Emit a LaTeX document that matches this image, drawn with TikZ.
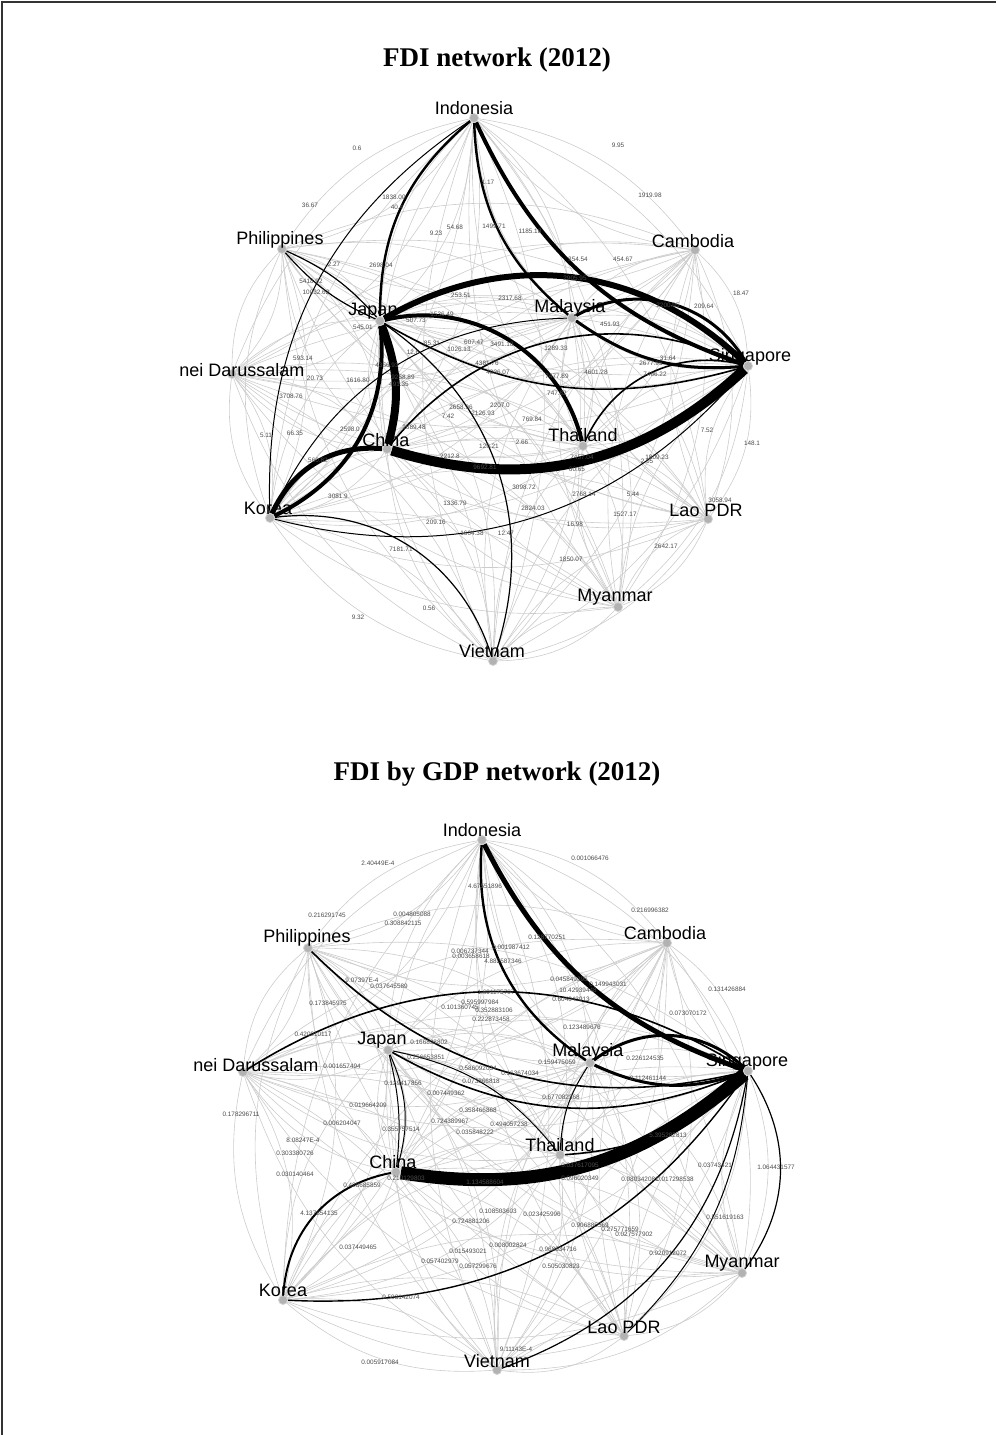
\documentclass[tikz,border=0pt]{standalone}
\usepackage{fontspec}
\setmainfont{Liberation Serif}
\setsansfont{Liberation Sans}
\usetikzlibrary{positioning}
\pgfdeclarelayer{edges}
\pgfsetlayers{edges,main}

\begin{document}
\begin{tikzpicture}[x=0.5pt, y=-0.5pt,
    dot/.style={circle, fill=gray!60, draw=gray!35, line width=0.4pt,
                minimum size=4.5pt, inner sep=0pt},
    lbl/.style={font=\sffamily\fontsize{9}{9}\selectfont, inner sep=0pt},
    val/.style={font=\sffamily\fontsize{3.2}{3.2}\selectfont, text=black!70, inner sep=0pt},
    web/.style={draw=gray!40, line width=0.3pt},
    tie/.style={draw=black, line width=#1},
    headline/.style={font=\bfseries\fontsize{13.5}{14}\selectfont}
  ]
  \useasboundingbox (0,0) rectangle (996,1435);
  \draw[line width=1pt, black!80] (2,1435) -- (2,2) -- (996,2);

  % titles
  \node[headline] (titleA) at (497,60) {FDI network (2012)};
  \node[headline] (titleB) at (497,774) {FDI by GDP network (2012)};

  % FDI network, country dots
  \node[dot] (idnA) at (474,118) {};
  \node[dot] (phlA) at (282,249) {};
  \node[dot] (camA) at (695,250) {};
  \node[dot] (jpnA) at (380,321) {};
  \node[dot] (mysA) at (572,318) {};
  \node[dot] (sgpA) at (748,366) {};
  \node[dot] (brnA) at (232,374) {};
  \node[dot] (chnA) at (387,449) {};
  \node[dot] (thaA) at (583,446) {};
  \node[dot] (korA) at (270,518) {};
  \node[dot] (laoA) at (708,519) {};
  \node[dot] (mmrA) at (618,607) {};
  \node[dot] (vnmA) at (493,661) {};

  % FDI by GDP network, country dots
  \node[dot] (idnB) at (482,840) {};
  \node[dot] (phlB) at (308,948) {};
  \node[dot] (camB) at (667,943) {};
  \node[dot] (jpnB) at (388,1050) {};
  \node[dot] (mysB) at (590,1063) {};
  \node[dot] (sgpB) at (748,1071) {};
  \node[dot] (brnB) at (243,1072) {};
  \node[dot] (chnB) at (396,1172) {};
  \node[dot] (thaB) at (560,1155) {};
  \node[dot] (korB) at (283,1300) {};
  \node[dot] (laoB) at (624,1336) {};
  \node[dot] (mmrB) at (742,1273) {};
  \node[dot] (vnmB) at (497,1370) {};

  \begin{pgfonlayer}{edges}
    % light web between every pair, both directions
    \foreach \g in {A,B}{
      \foreach \a [count=\i] in {idn,phl,cam,jpn,mys,sgp,brn,chn,tha,kor,lao,mmr,vnm}{
        \foreach \b [count=\j] in {idn,phl,cam,jpn,mys,sgp,brn,chn,tha,kor,lao,mmr,vnm}{
          \ifnum\i<\j
            \draw[web] (\a\g) to[bend left=22] (\b\g);
            \draw[web] (\b\g) to[bend left=22] (\a\g);
          \fi
        }
      }
    }

    % heavy flows, FDI network
    \draw[tie=4pt]   (jpnA) to[bend left=18] (chnA);
    \draw[tie=5pt]   (chnA) to[bend right=30] (sgpA);
    \draw[tie=3pt]   (jpnA) to[bend left=37] (sgpA);
    \draw[tie=2pt]   (idnA) to[bend right=23] (sgpA);
    \draw[tie=1.2pt] (idnA) to[bend right=24] (mysA);
    \draw[tie=1.2pt] (idnA) to[bend right=25] (jpnA);
    \draw[tie=2pt]   (jpnA) to[bend left=45] (thaA);
    \draw[tie=2.5pt] (korA) to[bend left=35] (chnA);
    \draw[tie=2pt]   (jpnA) to[bend left=35] (korA);
    \draw[tie=1.5pt] (mysA) to[bend left=45] (sgpA);
    \draw[tie=1.5pt] (mysA) to[bend right=20] (sgpA);
    \draw[tie=0.6pt] (korA) to[bend left=40] (vnmA);
    \draw[tie=0.5pt] (korA) to[bend right=32] (sgpA);
    \draw[tie=0.8pt] (sgpA) to[bend right=40] (thaA);
    \draw[tie=0.5pt] (mysA) to[bend right=32] (korA);
    \draw[tie=0.8pt] (jpnA) to[bend right=23] (sgpA);
    \draw[tie=0.8pt] (chnA) to[bend left=38] (sgpA);
    \draw[tie=0.5pt] (idnA) to[bend right=29] (korA);
    \draw[tie=0.6pt] (jpnA) to[bend left=37] (vnmA);
    \draw[tie=0.6pt] (phlA) to[bend left=12] (jpnA);
    \draw[tie=0.6pt] (phlA) to[bend right=12] (jpnA);

    % heavy flows, FDI by GDP network
    \draw[tie=6.5pt] (chnB) to[bend right=25] (sgpB);
    \draw[tie=2.5pt] (idnB) to[bend right=22] (sgpB);
    \draw[tie=1.2pt] (idnB) to[bend right=30] (mysB);
    \draw[tie=1.5pt] (mysB) to[bend left=40] (sgpB);
    \draw[tie=1.5pt] (mysB) to[bend right=22] (sgpB);
    \draw[tie=1pt]   (chnB) to[bend right=38] (korB);
    \draw[tie=0.8pt] (jpnB) to[bend right=26] (sgpB);
    \draw[tie=0.8pt] (phlB) to[bend right=29] (sgpB);
    \draw[tie=0.8pt] (brnB) to[bend left=32] (sgpB);
    \draw[tie=0.7pt] (korB) to[bend right=29] (sgpB);
    \draw[tie=0.6pt] (vnmB) to[bend right=30] (sgpB);
    \draw[tie=0.6pt] (sgpB) to[bend left=35] (mmrB);
    \draw[tie=0.8pt] (thaB) to[bend right=20] (sgpB);
    \draw[tie=0.5pt] (jpnB) to[bend left=10] (chnB);
    \draw[tie=0.5pt] (jpnB) to[bend left=20] (chnB);
    \draw[tie=0.5pt] (mysB) to[bend right=15] (thaB);
    \draw[tie=0.5pt] (jpnB) to[bend left=20] (thaB);
    \draw[tie=0.5pt] (laoB) to[bend right=20] (sgpB);
  \end{pgfonlayer}

  % flow values, FDI network
  \foreach \t/\x/\y [count=\i] in {0.6/357/148, 9.95/618/145, 36.67/310/205,
      1838.00/394/197, 40.4/397/207, 1.17/488/182, 1919.98/650/195,
      9.23/436/233, 54.68/455/227, 1499.71/494/226, 1185.18/530/231,
      2.27/334/264, 2698.04/381/265, 354.54/578/259, 454.67/623/259,
      5418.92/311/281, 10032.62/316/292, 2905.95/575/278, 253.51/461/295,
      2317.68/510/298, 18.47/741/293, 2200.95/668/305, 209.64/704/306,
      545.01/363/327, 507.73/416/320, 1536.49/442/314, 451.93/610/324,
      85.31/432/343, 1026.13/459/349, 607.47/474/342, 3491.18/502/344,
      1289.33/556/348, 31.64/668/358, 2677.95/651/363, 593.14/303/358,
      4381.76/487/363, 4026.07/498/372, 7477.89/557/376, 4601.28/596/372,
      7466.22/655/374, 20.73/315/378, 1616.80/358/380, 4356.93/387/365,
      9258.89/403/377, 491.35/399/384, 12.6/413/352, 3708.76/291/396,
      747.82/557/393, 5.11/266/435, 66.35/295/433, 2598.0/350/429,
      2689.48/414/427, 2658.96/461/407, 2207.0/500/405, 7.42/448/416,
      2126.93/483/413, 769.84/532/419, 2.66/522/442, 129.21/489/446,
      2212.8/450/456, 9692.81/485/467, 7457.04/582/457, 1809.23/657/457,
      2.05/647/461, 7.52/707/430, 148.1/752/443, 60.65/577/469,
      3098.72/524/487, 2768.14/584/494, 5.44/633/494, 3058.94/720/500,
      3081.9/338/496, 1336.79/455/503, 2824.03/533/508, 1527.17/625/514,
      209.16/436/522, 1604.38/472/533, 12.47/506/533, 16.98/575/524,
      7181.71/401/549, 2642.17/666/546, 1850.07/571/559, 0.56/429/608,
      9.32/358/617, 560.82/318/460}
    \node[val] (vA\i) at (\x,\y) {\t};

  % flow values, FDI by GDP network
  \foreach \t/\x/\y [count=\i] in {2.40449E-4/378/863, 0.001066476/590/858,
      4.67551896/485/886, 0.216291745/327/915, 0.004805088/412/914,
      0.308842115/403/923, 0.216996382/650/910, 0.128770251/547/937,
      0.001987412/511/947, 0.006737344/470/951, 0.003658618/471/956,
      4.882587346/503/961, 9.07397E-4/362/980, 0.037645589/389/986,
      0.045849395/569/979, 0.149943031/608/984, 10.42939448/578/990,
      0.604043913/571/999, 0.131426884/727/989, 0.173845975/328/1003,
      1.691175797/496/992, 0.595997984/480/1002, 0.101360745/460/1007,
      0.352883106/494/1010, 0.222873458/491/1019, 0.073070172/688/1013,
      0.420910117/313/1034, 0.123489676/582/1027, 0.166898802/429/1042,
      0.226124535/645/1058, 0.159475059/557/1062, 0.001657494/342/1066,
      0.256653851/426/1057, 0.586092034/478/1068, 0.163674034/520/1073,
      0.073866818/481/1081, 0.129417856/403/1083, 0.007449362/446/1093,
      0.677082368/561/1097, 0.019664209/368/1105, 0.112461144/648/1078,
      0.358466868/478/1110, 0.178296711/241/1114, 0.006204047/342/1123,
      0.724389967/450/1121, 0.494057238/509/1124, 0.355757514/401/1129,
      0.035848222/475/1132, 5.395282813/668/1135, 8.08247E-4/303/1140,
      0.303380726/295/1153, 0.030140464/295/1174, 0.428685859/362/1185,
      0.210129803/406/1178, 0.03743421/715/1165, 1.064431577/776/1167,
      0.080342081/640/1179, 0.017298538/675/1179, 0.037617095/580/1165,
      0.096020349/580/1178, 1.134588604/485/1182, 4.137854135/319/1213,
      0.108503603/498/1211, 0.023425996/542/1214, 0.724881206/471/1221,
      0.551619163/725/1217, 0.906885569/590/1225, 0.275771659/620/1229,
      0.027577902/634/1234, 0.037449465/358/1247, 0.015493021/468/1251,
      0.008002824/508/1245, 0.968834716/558/1249, 0.920912072/668/1253,
      0.057402979/440/1261, 0.057299676/478/1266, 0.505030823/561/1266,
      0.503142074/401/1297, 9.11143E-4/516/1349, 0.005917084/380/1362}
    \node[val] (vB\i) at (\x,\y) {\t};

  % country names, FDI network
  \node[lbl] (idnAt) at (474,108) {Indonesia};
  \node[lbl] (phlAt) at (280,240) {Philippines};
  \node[lbl] (camAt) at (693,241) {Cambodia};
  \node[lbl] (jpnAt) at (373,311) {Japan};
  \node[lbl] (mysAt) at (570,308) {Malaysia};
  \node[lbl] (sgpAt) at (750,357) {Singapore};
  \node[lbl] (brnAt) at (242,370) {nei Darussalam};
  \node[lbl] (chnAt) at (386,440) {China};
  \node[lbl] (thaAt) at (583,435) {Thailand};
  \node[lbl] (korAt) at (268,508) {Korea};
  \node[lbl] (laoAt) at (706,510) {Lao PDR};
  \node[lbl] (mmrAt) at (615,597) {Myanmar};
  \node[lbl] (vnmAt) at (492,651) {Vietnam};

  % country names, FDI by GDP network
  \node[lbl] (idnBt) at (482,830) {Indonesia};
  \node[lbl] (phlBt) at (307,938) {Philippines};
  \node[lbl] (camBt) at (665,933) {Cambodia};
  \node[lbl] (jpnBt) at (382,1040) {Japan};
  \node[lbl] (mysBt) at (588,1052) {Malaysia};
  \node[lbl] (sgpBt) at (747,1062) {Singapore};
  \node[lbl] (brnBt) at (256,1065) {nei Darussalam};
  \node[lbl] (chnBt) at (393,1162) {China};
  \node[lbl] (thaBt) at (560,1145) {Thailand};
  \node[lbl] (korBt) at (283,1290) {Korea};
  \node[lbl] (laoBt) at (624,1327) {Lao PDR};
  \node[lbl] (mmrBt) at (742,1263) {Myanmar};
  \node[lbl] (vnmBt) at (497,1361) {Vietnam};
\end{tikzpicture}
\end{document}
